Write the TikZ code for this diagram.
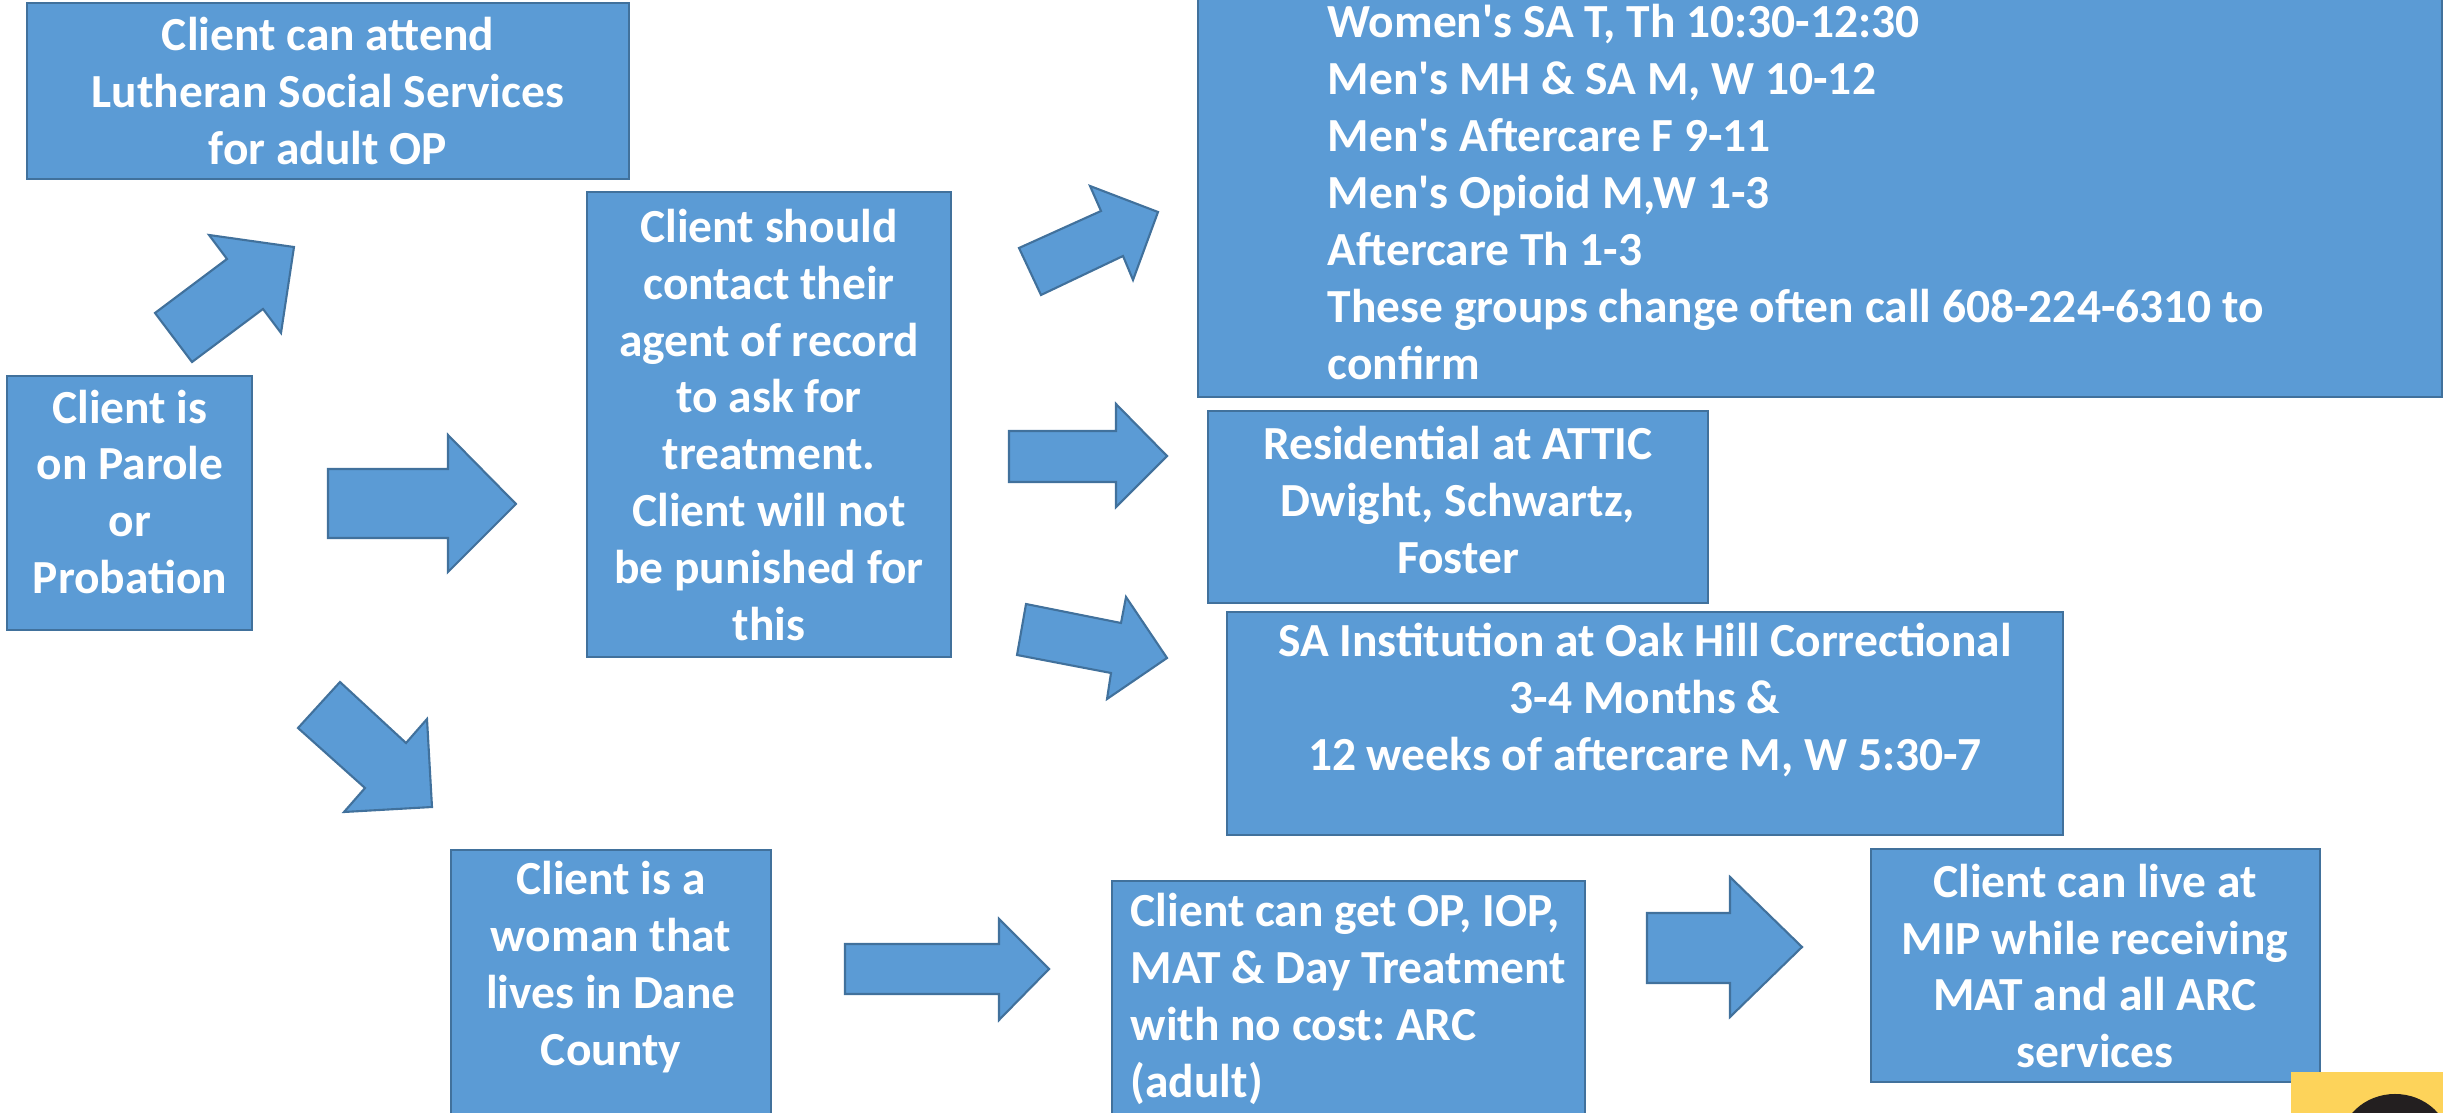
\documentclass[tikz,border=0pt]{standalone}
\usepackage{fontspec}
\setmainfont{Carlito}
\usetikzlibrary{fit}
\definecolor{boxblue}{HTML}{5B9BD5}
\definecolor{boxedge}{HTML}{41719C}
\definecolor{badgeyellow}{HTML}{FDD35A}
\definecolor{badgeblack}{HTML}{231F20}
\frenchspacing

\begin{document}
\begin{tikzpicture}[x=0.01cm,y=-0.01cm,line join=miter,
  box/.style={draw=boxedge,fill=boxblue,line width=0.6pt,inner sep=0pt},
  blockarrow/.style={draw=boxedge,fill=boxblue,line width=0.6pt},
  txt/.style={text=white,font=\fontsize{13.5}{16.2}\selectfont\bfseries,align=center,inner sep=0pt}]
      \useasboundingbox (0,0) rectangle (2443,1113);
      \clip (0,0) rectangle (2443,1113);
      % boxes
      \node[box,fit={(27,3) (629,179)}] (lss) {};
      \node[box,fit={(7,376) (252,630)}] (parole) {};
      \node[box,fit={(587,192) (951,657)}] (agent) {};
      \node[box,fit={(1198,-20) (2442,397)}] (groups) {};
      \node[box,fit={(1208,411) (1708,603)}] (attic) {};
      \node[box,fit={(1227,612) (2063,835)}] (oakhill) {};
      \node[box,fit={(451,850) (771,1140)}] (woman) {};
      \node[box,fit={(1112,881) (1585,1140)}] (arc) {};
      \node[box,fit={(1871,849) (2320,1082)}] (mip) {};
      % block arrows
      \draw[blockarrow] (155,313) -- (227,259) -- (209,235) -- (294,247) -- (281,333) -- (263,309) -- (192,362) -- cycle;
      \draw[blockarrow] (328,469) -- (448,469) -- (448,435) -- (516,504) -- (448,572) -- (448,538) -- (328,538) -- cycle;
      \draw[blockarrow] (298,728) -- (340,682) -- (406,743) -- (427,719) -- (432,807) -- (344,812) -- (365,788) -- cycle;
      \draw[blockarrow] (1019,248) -- (1101,211) -- (1090,186) -- (1158,212) -- (1133,280) -- (1123,256) -- (1041,295) -- cycle;
      \draw[blockarrow] (1009,431) -- (1116,431) -- (1116,404) -- (1167,456) -- (1116,507) -- (1116,482) -- (1009,482) -- cycle;
      \draw[blockarrow] (1017,655) -- (1026,604) -- (1121,623) -- (1126,597) -- (1167,658) -- (1107,699) -- (1111,673) -- cycle;
      \draw[blockarrow] (845,944) -- (999,944) -- (999,919) -- (1049,969) -- (999,1020) -- (999,994) -- (845,994) -- cycle;
      \draw[blockarrow] (1647,913) -- (1730,913) -- (1730,877) -- (1802,947) -- (1730,1017) -- (1730,983) -- (1647,983) -- cycle;
      % corner badge
      \fill[badgeyellow] (2291,1072) rectangle (2443,1113);
      \fill[badgeblack] (2395,1145) ellipse [x radius=0.55cm, y radius=0.51cm];
      % texts
      \node[txt] (lsstext) at (328,91) {Client can attend\\Lutheran Social Services\\for adult OP};
      \node[txt] (paroletext) at (130,492) {Client is\\on Parole\\or\\Probation};
      \node[txt] (agenttext) at (769,425) {Client should\\contact their\\agent of record\\to ask for\\treatment.\\Client will not\\be punished for\\this};
      \node[txt,align=left,anchor=west] (groupstext) at (1327,192) {Women\textquotesingle s SA T, Th 10:30-12:30\\Men\textquotesingle s MH \& SA M, W 10-12\\Men\textquotesingle s Aftercare F 9-11\\Men\textquotesingle s Opioid M,W 1-3\\Aftercare Th 1-3\\These groups change often call 608-224-6310 to\\confirm};
      \node[txt] (attictext) at (1458,500) {Residential at ATTIC\\Dwight, Schwartz,\\Foster};
      \node[txt] (oakhilltext) at (1645,700) {SA Institution at Oak Hill Correctional\\3-4 Months \&\\12 weeks of aftercare M, W 5:30-7};
      \node[txt] (womantext) at (611,967) {Client is a\\woman that\\lives in Dane\\County};
      \node[txt,align=left,anchor=west] (arctext) at (1130,999) {Client can get OP, IOP,\\MAT \& Day Treatment\\with no cost: ARC\\(adult)};
      \node[txt] (miptext) at (2095,966) {Client can live at\\MIP while receiving\\MAT and all ARC\\services};
\end{tikzpicture}
\end{document}
